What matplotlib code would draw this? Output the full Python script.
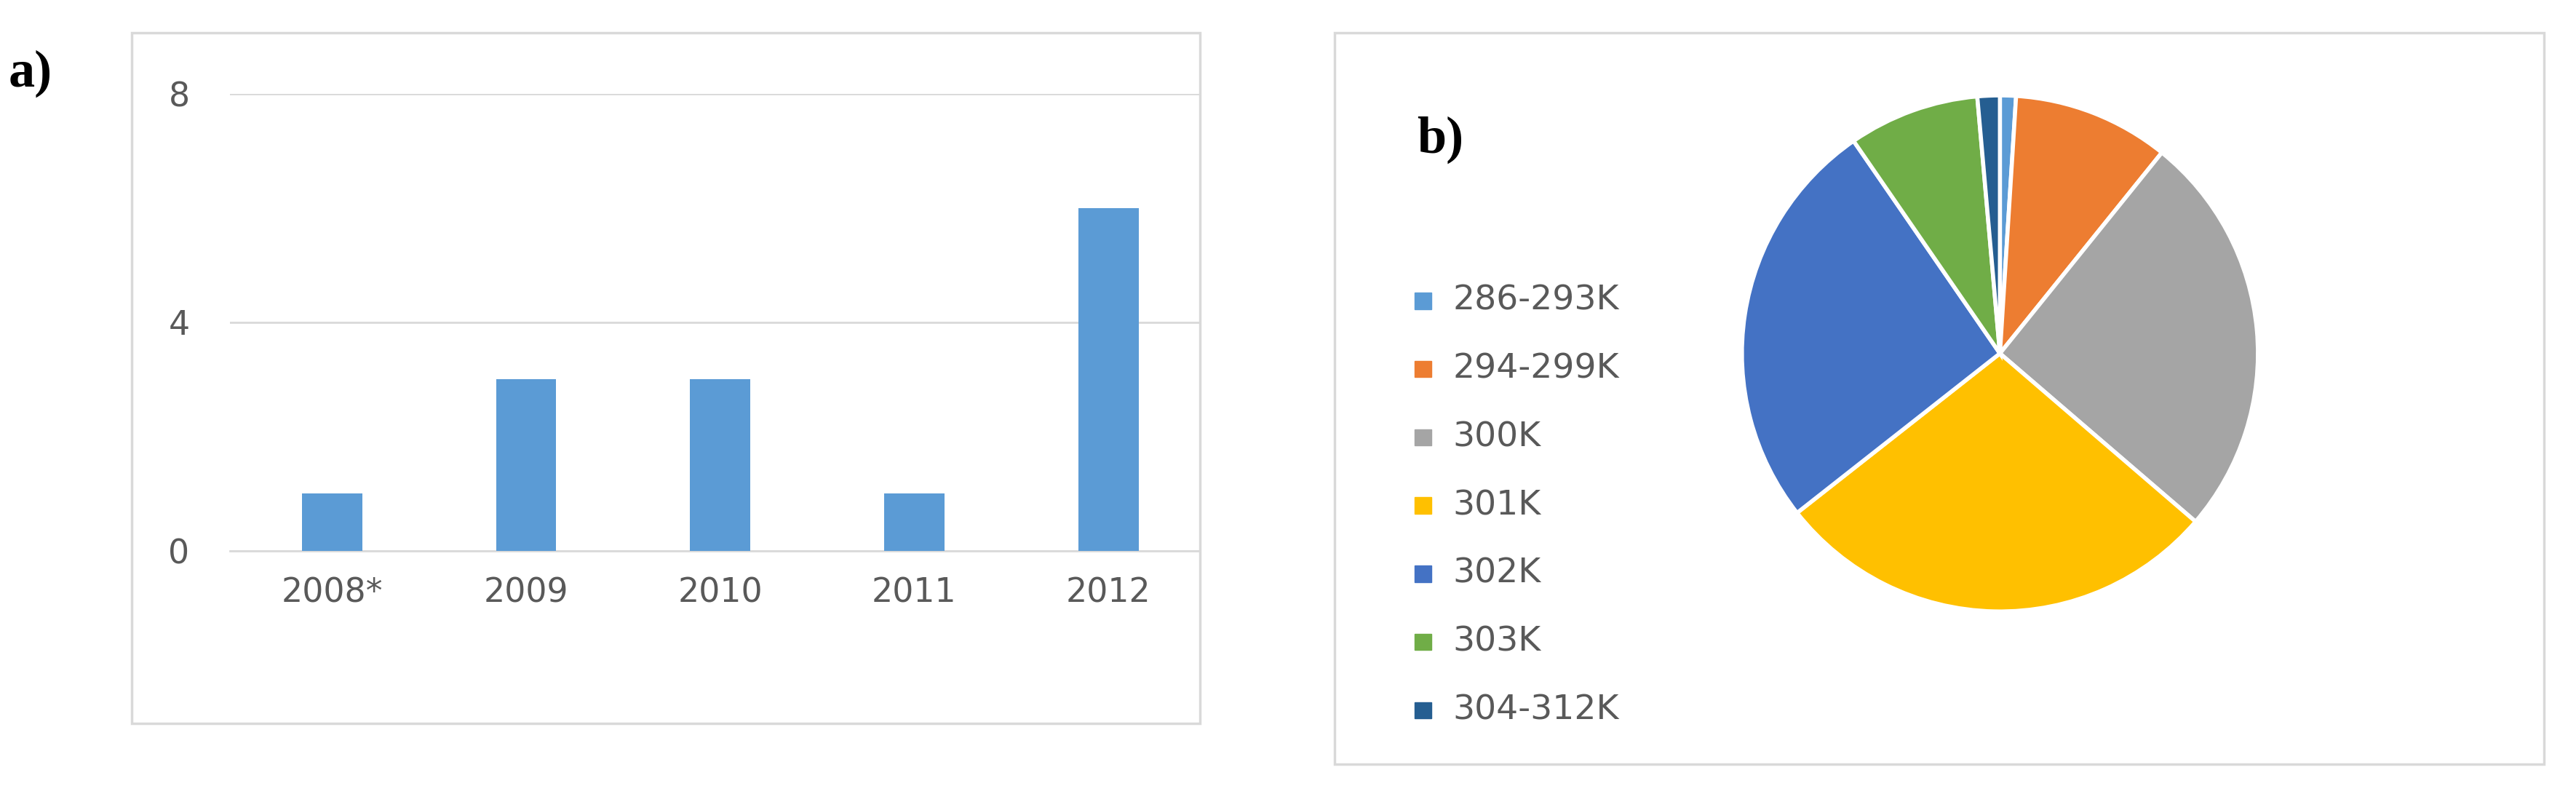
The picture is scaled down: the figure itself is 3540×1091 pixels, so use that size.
import matplotlib

matplotlib.use("Agg")
import matplotlib.pyplot as plt
from matplotlib.patches import Rectangle

years = ["2008*", "2009", "2010", "2011", "2012"]
counts = [1, 3, 3, 1, 6]
y_ticks = [0, 4, 8]

temp_labels = ["286-293K", "294-299K", "300K", "301K", "302K", "303K", "304-312K"]
temp_shares = [1.0, 9.8, 25.5, 28.1, 26.0, 8.2, 1.4]
temp_colors = ["#5b9bd5", "#ed7d31", "#a5a5a5", "#ffc000", "#4472c4", "#70ad47", "#255e91"]

TEXT = "#595959"
W, H = 1568, 483  # layout measured on a 1568x483 view

fig = plt.figure(figsize=(35.41, 10.91), dpi=100)
fig.patch.set_facecolor("white")


def box(x0, y0, x1, y1):
    fig.patches.append(Rectangle((x0 / W, 1 - y1 / H), (x1 - x0) / W, (y1 - y0) / H,
                                 transform=fig.transFigure, fill=False,
                                 edgecolor="#d9d9d9", linewidth=2.5))


box(80, 20, 730, 440)
box(812, 20, 1548, 465)

# a) bars
ax = fig.add_axes([140 / W, 1 - 335 / H, 590 / W, 278 / H])
ax.bar(range(len(years)), counts, width=0.31, color="#5b9bd5", zorder=3)
ax.set_xlim(-0.525, 4.47)
ax.set_ylim(0, 8)
ax.set_yticks(y_ticks)
ax.set_xticks(range(len(years)))
ax.set_xticklabels(years)
ax.tick_params(length=0, labelsize=33, colors=TEXT, pad=26)
ax.tick_params(axis="y", pad=40)
ax.grid(axis="y", color="#d9d9d9", linewidth=2, zorder=0)
for s in ["top", "right", "left"]:
    ax.spines[s].set_visible(False)
ax.spines["bottom"].set_color("#d9d9d9")
ax.spines["bottom"].set_linewidth(2)

# b) pie
pax = fig.add_axes([(1217 - 157) / W, 1 - (215 + 157) / H, 314 / W, 314 / H])
pax.pie(temp_shares, colors=temp_colors, startangle=90, counterclock=False,
        wedgeprops={"edgecolor": "white", "linewidth": 4})
pax.set_xlim(-1, 1)
pax.set_ylim(-1, 1)

for i, (lab, col) in enumerate(zip(temp_labels, temp_colors)):
    yc = 183 + i * 41.5
    fig.patches.append(Rectangle((861 / W, 1 - (yc + 5) / H), 10 / W, 10 / H,
                                 transform=fig.transFigure, color=col))
    fig.text(884 / W, 1 - yc / H, lab, fontsize=34, color=TEXT, va="center")

fig.text(5 / W, 1 - 45 / H, "a)", fontsize=52, fontweight="bold",
         family="Liberation Serif", va="center")
fig.text(862 / W, 1 - 85 / H, "b)", fontsize=52, fontweight="bold",
         family="Liberation Serif", va="center")

fig.savefig("out.png", dpi=100, facecolor="white")
